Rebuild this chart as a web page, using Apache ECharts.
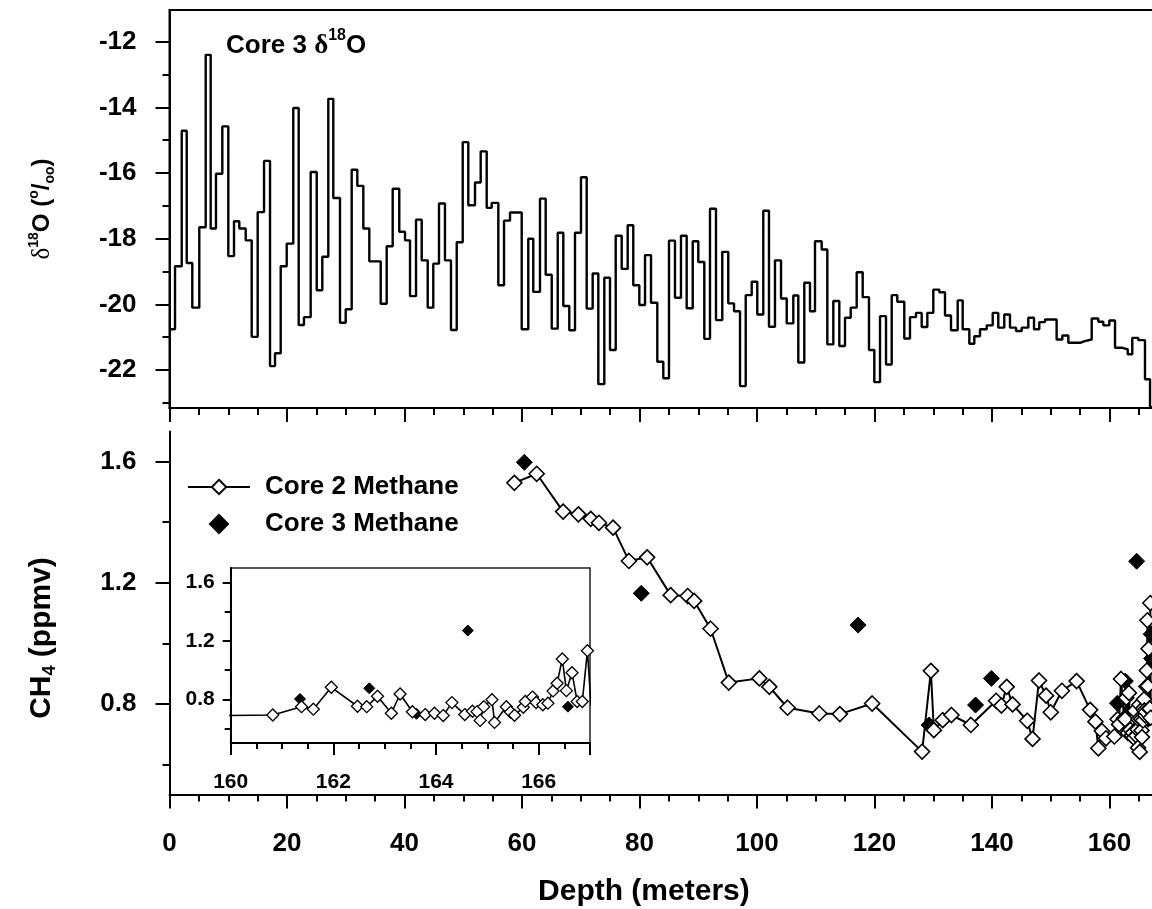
<!DOCTYPE html>
<html><head><meta charset="utf-8">
<script src="https://cdn.jsdelivr.net/npm/echarts@6/dist/echarts.min.js"></script>
<style>html,body{margin:0;padding:0;background:#fff}#c{width:1152px;height:909px}</style>
</head><body><div id="c"></div>
<script>
// ---- Core 3 delta-18O step record: start depth of each step and its value ----
const o18Depth = [0.0,0.94,2.08,2.93,3.88,5.07,6.16,7.01,7.91,8.99,10.01,10.98,11.88,12.97,13.99,15.01,16.09,17.11,17.96,18.93,19.95,21.07,21.99,22.89,24.03,25.06,26.01,27.03,27.88,29.02,29.99,31.01,31.97,32.99,34.01,35.95,36.97,37.99,39.11,40.09,40.94,41.96,42.93,43.95,44.90,45.87,46.89,47.91,48.89,49.91,50.86,52.00,52.97,53.99,54.84,55.97,56.94,57.96,59.95,61.07,61.92,63.06,64.03,65.06,66.08,67.03,68.05,69.02,70.04,71.01,72.03,72.99,74.01,74.98,75.95,76.97,77.99,78.94,79.97,80.94,81.96,83.03,84.05,85.02,86.04,87.06,88.03,89.06,90.01,91.03,92.00,93.02,94.09,95.11,96.09,97.11,98.08,99.10,100.05,101.07,102.04,103.06,104.09,105.06,106.18,107.03,108.05,109.02,109.87,111.01,111.97,112.99,114.01,114.98,115.95,116.97,117.99,119.06,119.97,120.94,121.96,122.93,123.88,125.07,126.04,127.06,128.03,128.99,130.01,131.03,132.00,133.02,134.16,135.01,136.14,136.99,137.96,139.10,140.12,141.07,142.09,143.06,144.09,145.06,146.18,147.15,148.05,149.02,151.00,151.97,152.99,155.00,155.80,156.97,158.10,158.95,159.97,160.94,162.07,163.10,163.88,164.90,166.04,166.90,168.00];
const o18Value = [-20.76,-18.84,-14.71,-18.74,-20.10,-17.65,-12.40,-17.69,-16.02,-14.58,-18.53,-17.47,-17.69,-18.05,-20.99,-17.19,-15.63,-21.88,-21.49,-18.84,-18.15,-14.02,-20.63,-20.39,-15.97,-19.57,-18.55,-13.74,-16.76,-20.56,-20.15,-15.90,-16.39,-17.69,-18.69,-19.98,-18.23,-16.48,-17.79,-18.05,-19.75,-17.42,-18.66,-20.10,-18.76,-16.93,-18.66,-20.78,-18.11,-15.06,-16.98,-16.29,-15.34,-17.06,-16.91,-19.42,-17.45,-17.20,-20.76,-18.00,-19.62,-16.78,-19.10,-20.74,-17.82,-20.05,-20.79,-17.82,-16.13,-20.13,-19.06,-22.43,-19.19,-21.39,-17.91,-18.92,-17.59,-19.42,-20.02,-18.50,-19.95,-21.75,-22.25,-18.06,-19.80,-17.91,-20.12,-18.08,-18.71,-21.05,-17.09,-20.48,-18.40,-19.97,-20.21,-22.49,-19.72,-19.31,-20.31,-17.15,-20.68,-18.66,-19.82,-20.58,-19.73,-21.77,-19.34,-20.21,-18.08,-18.33,-21.22,-19.90,-21.27,-20.41,-20.10,-19.02,-19.78,-21.39,-22.37,-20.36,-21.83,-19.72,-19.92,-21.04,-20.39,-20.26,-20.69,-20.26,-19.55,-19.63,-20.34,-20.79,-19.88,-20.76,-21.20,-20.97,-20.76,-20.64,-20.26,-20.71,-20.31,-20.71,-20.81,-20.71,-20.41,-20.76,-20.54,-20.46,-21.07,-20.95,-21.17,-21.12,-21.07,-20.43,-20.53,-20.64,-20.49,-21.32,-21.37,-21.52,-21.02,-21.09,-22.28,-23.13,-23.13];

// ---- Core 2 methane (open diamonds, connected) ----
const core2Depth = [58.7,62.5,67.0,69.6,71.7,73.1,75.5,78.2,81.3,85.3,88.2,89.3,92.1,95.2,100.4,102.1,105.2,110.6,114.1,119.6,128.1,129.6,130.1,131.6,133.1,136.4,140.7,141.6,142.5,143.5,146.0,146.9,148.0,149.2,150.0,151.9,154.4,156.7,157.6,158.1,158.7,159.4,160.82,161.38,161.61,161.96,162.47,162.65,162.86,163.13,163.30,163.54,163.79,163.97,164.14,164.31,164.56,164.71,164.80,164.86,164.93,165.09,165.14,165.37,165.45,165.53,165.70,165.74,165.88,165.95,166.08,166.18,166.28,166.36,166.46,166.54,166.65,166.75,166.85,166.95,167.02];
const core2CH4 = [1.53,1.56,1.435,1.426,1.411,1.398,1.382,1.272,1.284,1.159,1.156,1.140,1.048,0.870,0.884,0.856,0.787,0.768,0.766,0.801,0.642,0.909,0.713,0.746,0.763,0.730,0.810,0.794,0.856,0.798,0.744,0.684,0.877,0.827,0.772,0.843,0.875,0.780,0.741,0.653,0.710,0.686,0.692,0.749,0.732,0.882,0.752,0.749,0.820,0.704,0.836,0.714,0.695,0.704,0.688,0.777,0.695,0.718,0.715,0.655,0.749,0.797,0.641,0.749,0.712,0.690,0.745,0.785,0.815,0.778,0.762,0.773,0.857,0.910,1.076,0.859,0.982,0.784,0.784,1.133,0.754];

// ---- Core 3 methane (filled diamonds) ----
const core3Depth = [60.4,80.3,117.2,129.3,137.2,139.9,161.35,162.7,163.62,164.62,166.57,167.1,167.15];
const core3CH4 = [1.598,1.165,1.060,0.730,0.796,0.884,0.802,0.875,0.700,1.271,0.749,1.03,0.95];

// ---- tick labels ----
const o18MajorTicks = [-22,-20,-18,-16,-14,-12];
const o18MinorTicks = [-23,-21,-19,-17,-15,-13];
const ch4MajorTicks = [0.8,1.2,1.6];
const ch4MinorTicks = [0.6,1.0,1.4];

const FONT = '"Liberation Sans", Arial, sans-serif';
const pairs = (xs, ys) => xs.map((x, i) => [x, ys[i]]);

const chart = echarts.init(document.getElementById('c'), null, {renderer: 'canvas'});

function xAx(gi, opt) {
  return Object.assign({
    gridIndex: gi, type: 'value', position: 'bottom', min: 0, max: 170, interval: 20,
    axisLine: {show: true, onZero: false, lineStyle: {color: '#000', width: 2}},
    axisTick: {show: true, inside: false, length: 14, lineStyle: {color: '#000', width: 2}},
    minorTick: {show: true, splitNumber: 4, length: 7, lineStyle: {color: '#000', width: 2}},
    axisLabel: {show: false},
    splitLine: {show: false}, minorSplitLine: {show: false}
  }, opt);
}
function yAxMajor(gi, min, max, ticks, opt) {
  return Object.assign({
    gridIndex: gi, type: 'value', position: 'left', min: min, max: max,
    axisLine: {show: true, onZero: false, lineStyle: {color: '#000', width: 2}},
    axisTick: {show: true, inside: false, length: 14, customValues: ticks, lineStyle: {color: '#000', width: 2}},
    axisLabel: {show: true, customValues: ticks, margin: 33, color: '#000', fontFamily: FONT, fontWeight: 'bold', fontSize: 26},
    splitLine: {show: false}
  }, opt);
}
function yAxMinor(gi, min, max, ticks, len) {
  return {
    gridIndex: gi, type: 'value', position: 'left', offset: 0, min: min, max: max,
    axisLine: {show: false, onZero: false},
    axisTick: {show: true, inside: false, length: len, customValues: ticks, lineStyle: {color: '#000', width: 2}},
    axisLabel: {show: false}, splitLine: {show: false}
  };
}

const option = {
  backgroundColor: '#fff',
  animation: false,
  title: {
    text: '{b|Core 3 }{d|δ}{s|18}{b|O}',
    left: 221, top: 23,
    textStyle: {
      rich: {
        b: {fontFamily: FONT, fontWeight: 'bold', fontSize: 26, color: '#000', lineHeight: 36},
        d: {fontFamily: '"Liberation Serif", serif', fontSize: 27, color: '#000', lineHeight: 36},
        s: {fontFamily: FONT, fontWeight: 'bold', fontSize: 16, color: '#000', lineHeight: 36, verticalAlign: 'top'}
      }
    }
  },
  legend: {
    left: 182, top: 469, orient: 'vertical',
    itemWidth: 62, itemHeight: 18, itemGap: 11, symbolKeepAspect: true,
    textStyle: {fontFamily: FONT, fontWeight: 'bold', fontSize: 26, color: '#000', padding: [0, 0, 0, 10]},
    data: [
      {name: 'Core 2 Methane'},
      {name: 'Core 3 Methane', icon: 'path://M0,-1L1,0L0,1L-1,0Z'}
    ]
  },
  grid: [
    {left: 169.5, top: 10, width: 998.75, height: 398, show: true, borderColor: '#000', borderWidth: 2, backgroundColor: 'transparent', outerBoundsMode: 'none', containLabel: false},
    {left: 169.5, top: 431.4, width: 998.75, height: 363.2, show: false, outerBoundsMode: 'none', containLabel: false},
    {left: 230.7, top: 568, width: 359.3, height: 175, show: true, borderColor: '#222', borderWidth: 1.5, backgroundColor: '#fff', z: 5, outerBoundsMode: 'none', containLabel: false}
  ],
  xAxis: [
    xAx(0, {}),
    xAx(1, {
      axisLabel: {show: true, showMaxLabel: false, margin: 36, color: '#000', fontFamily: FONT, fontWeight: 'bold', fontSize: 26},
      name: 'Depth (meters)', nameLocation: 'middle', nameGap: 82,
      nameTextStyle: {fontFamily: FONT, fontWeight: 'bold', fontSize: 30, color: '#000', padding: [0, 50, 0, 0]}
    }),
    xAx(2, {
      min: 160, max: 167, interval: 2, z: 6,
      axisTick: {show: true, inside: false, length: 12, lineStyle: {color: '#000', width: 2}},
      minorTick: {show: true, splitNumber: 4, length: 6, lineStyle: {color: '#000', width: 2}},
      axisLabel: {show: true, showMaxLabel: false, margin: 29, color: '#000', fontFamily: FONT, fontWeight: 'bold', fontSize: 21}
    })
  ],
  yAxis: [
    yAxMajor(0, -23.157, -11.034, o18MajorTicks, {
      name: '{d|δ}{s|18}{b|O (}{s|o}{b|/}{u|oo}{b|)}',
      nameLocation: 'middle', nameRotate: 90, nameGap: 112,
      nameTextStyle: {
        rich: {
          b: {fontFamily: FONT, fontWeight: 'bold', fontSize: 24, color: '#000', lineHeight: 30},
          d: {fontFamily: '"Liberation Serif", serif', fontSize: 25, color: '#000', lineHeight: 30},
          s: {fontFamily: FONT, fontWeight: 'bold', fontSize: 14, color: '#000', lineHeight: 30, verticalAlign: 'top'},
          u: {fontFamily: FONT, fontWeight: 'bold', fontSize: 14, color: '#000', lineHeight: 30, verticalAlign: 'bottom'}
        }
      }
    }),
    yAxMinor(0, -23.157, -11.034, o18MinorTicks, 7),
    yAxMajor(1, 0.5, 1.7, ch4MajorTicks, {
      axisLabel: {show: true, customValues: ch4MajorTicks, margin: 33, color: '#000', fontFamily: FONT, fontWeight: 'bold', fontSize: 26,
        formatter: v => v.toFixed(1)},
      name: '{b|CH}{u|4}{b| (ppmv)}',
      nameLocation: 'middle', nameRotate: 90, nameGap: 110,
      nameTextStyle: {
        padding: [0, 50, 0, 0],
        rich: {
          b: {fontFamily: FONT, fontWeight: 'bold', fontSize: 30, color: '#000', lineHeight: 36},
          u: {fontFamily: FONT, fontWeight: 'bold', fontSize: 18, color: '#000', lineHeight: 36, verticalAlign: 'bottom'}
        }
      }
    }),
    yAxMinor(1, 0.5, 1.7, ch4MinorTicks, 7),
    yAxMajor(2, 0.5, 1.7, ch4MajorTicks, {
      z: 6,
      axisTick: {show: true, inside: false, length: 8, customValues: ch4MajorTicks, lineStyle: {color: '#000', width: 2}},
      axisLabel: {show: true, customValues: ch4MajorTicks, margin: 16, color: '#000', fontFamily: FONT, fontWeight: 'bold', fontSize: 21,
        formatter: v => v.toFixed(1)}
    }),
    Object.assign(yAxMinor(2, 0.5, 1.7, ch4MinorTicks, 6), {z: 6})
  ],
  series: [
    {
      name: 'o18', type: 'line', xAxisIndex: 0, yAxisIndex: 0, step: 'end',
      data: pairs(o18Depth, o18Value), showSymbol: false, symbol: 'none',
      lineStyle: {color: '#000', width: 2.4}, clip: true, silent: true
    },
    {
      name: 'Core 3 Methane', type: 'scatter', xAxisIndex: 1, yAxisIndex: 2,
      data: pairs(core3Depth, core3CH4), symbol: 'diamond', symbolSize: 16,
      itemStyle: {color: '#000', borderColor: '#000', borderWidth: 1, opacity: 1}, z: 2, clip: true
    },
    {
      name: 'Core 2 Methane', type: 'line', xAxisIndex: 1, yAxisIndex: 2,
      data: pairs(core2Depth, core2CH4), symbol: 'diamond', symbolSize: 15, showAllSymbol: true,
      itemStyle: {color: '#fff', borderColor: '#000', borderWidth: 1.6, opacity: 1},
      lineStyle: {color: '#000', width: 2}, z: 3, clip: true
    },
    {
      name: 'Core 3 Methane', type: 'scatter', xAxisIndex: 2, yAxisIndex: 4,
      data: pairs(core3Depth, core3CH4), symbol: 'diamond', symbolSize: 11,
      itemStyle: {color: '#000', borderColor: '#000', borderWidth: 1, opacity: 1}, z: 7, clip: true
    },
    {
      name: 'Core 2 Methane', type: 'line', xAxisIndex: 2, yAxisIndex: 4,
      data: pairs(core2Depth, core2CH4), symbol: 'diamond', symbolSize: 12, showAllSymbol: true,
      itemStyle: {color: '#fff', borderColor: '#000', borderWidth: 1.3, opacity: 1},
      lineStyle: {color: '#000', width: 1.6}, z: 8, clip: true
    }
  ]
};
chart.setOption(option);
</script>
</body></html>
